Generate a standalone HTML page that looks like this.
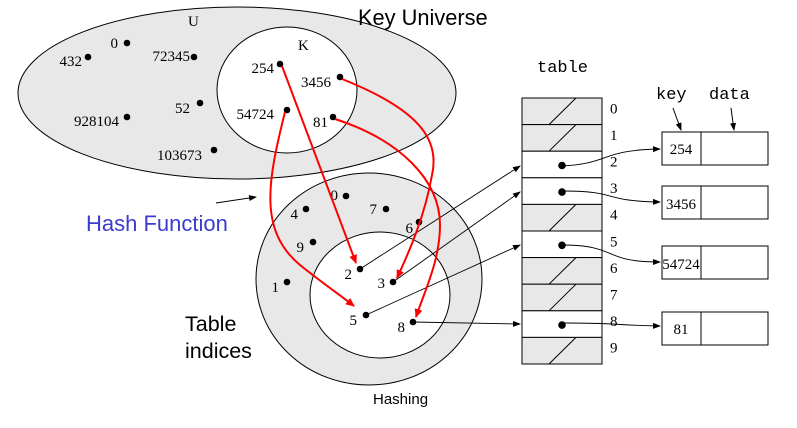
<!DOCTYPE html>
<html><head><meta charset="utf-8"><style>
html,body{margin:0;padding:0;background:#fff}
svg{display:block}
.s{font-family:"Liberation Serif",serif;font-size:15px;fill:#000}
.a{font-family:"Liberation Sans",sans-serif;fill:#000}
.m{font-family:"Liberation Mono",monospace;font-size:17px;fill:#000}
</style></head><body>
<svg width="797" height="428" viewBox="0 0 797 428">
<defs>
<marker id="ab" markerWidth="8" markerHeight="8" refX="7" refY="3" orient="auto" markerUnits="userSpaceOnUse"><path d="M0,0 L8,3 L0,6 z" fill="#000"/></marker>
<marker id="ar" markerWidth="10" markerHeight="10" refX="8" refY="4" orient="auto" markerUnits="userSpaceOnUse"><path d="M0,0 L9,4 L0,8 z" fill="#f00"/></marker>
</defs>
<g>
<ellipse cx="237" cy="93" rx="219" ry="86" fill="#e8e8e8" stroke="#000" stroke-width="1"/>
<ellipse cx="287" cy="90" rx="70" ry="63" fill="#fff" stroke="#000"/>
<text x="358" y="25" class="a" font-size="21.8">Key Universe</text>
<text x="188" y="26" class="s" font-size="16">U</text>
<text x="298" y="50" class="s" font-size="16">K</text>
</g>
<g fill="#000">
<circle cx="127" cy="43" r="3.3"/><text x="118" y="48" class="s" text-anchor="end">0</text>
<circle cx="88" cy="57" r="3.3"/><text x="82" y="66" class="s" text-anchor="end">432</text>
<circle cx="194" cy="57" r="3.3"/><text x="190" y="61" class="s" text-anchor="end">72345</text>
<circle cx="200" cy="103" r="3.3"/><text x="190" y="113" class="s" text-anchor="end">52</text>
<circle cx="127" cy="117" r="3.3"/><text x="119" y="126" class="s" text-anchor="end">928104</text>
<circle cx="214" cy="150" r="3.3"/><text x="202" y="160" class="s" text-anchor="end">103673</text>
<circle cx="280" cy="64" r="3.3"/><text x="274" y="73" class="s" text-anchor="end">254</text>
<circle cx="340" cy="77" r="3.3"/><text x="331" y="87" class="s" text-anchor="end">3456</text>
<circle cx="287" cy="110" r="3.3"/><text x="274" y="119" class="s" text-anchor="end">54724</text>
<circle cx="333" cy="117" r="3.3"/><text x="328" y="127" class="s" text-anchor="end">81</text>
</g>
<g>
<ellipse cx="369" cy="279" rx="113" ry="106" fill="#e8e8e8" stroke="#000"/>
<ellipse cx="380" cy="295" rx="70" ry="63" fill="#fff" stroke="#000"/>
<g fill="#000">
<circle cx="346" cy="196" r="3.3"/><text x="338" y="200" class="s" text-anchor="end">0</text>
<circle cx="386" cy="209" r="3.3"/><text x="377" y="214" class="s" text-anchor="end">7</text>
<circle cx="306" cy="209" r="3.3"/><text x="298" y="219" class="s" text-anchor="end">4</text>
<circle cx="419" cy="222" r="3.3"/><text x="413" y="233" class="s" text-anchor="end">6</text>
<circle cx="313" cy="242" r="3.3"/><text x="304" y="252" class="s" text-anchor="end">9</text>
<circle cx="287" cy="282" r="3.3"/><text x="279" y="292" class="s" text-anchor="end">1</text>
<circle cx="360" cy="269" r="3.3"/><text x="352" y="279" class="s" text-anchor="end">2</text>
<circle cx="393" cy="282" r="3.3"/><text x="385" y="288" class="s" text-anchor="end">3</text>
<circle cx="366" cy="315" r="3.3"/><text x="357" y="325" class="s" text-anchor="end">5</text>
<circle cx="413" cy="322" r="3.3"/><text x="405" y="332" class="s" text-anchor="end">8</text>
</g>
</g>
<text x="86" y="231" class="a" font-size="22" fill="#3b3bd0" style="fill:#3b3bd0">Hash Function</text>
<line x1="216" y1="203" x2="256" y2="197" stroke="#000" marker-end="url(#ab)"/>
<text x="185" y="331" class="a" font-size="21.5">Table</text>
<text x="185" y="358" class="a" font-size="21.5">indices</text>
<text x="373" y="404" class="a" font-size="15">Hashing</text>
<g stroke="#000">
<text x="537" y="72" class="m" stroke="none">table</text>
<g id="rows"></g>
</g>
<g stroke="#000" fill="#fff">
<text x="656" y="99" class="m" stroke="none" fill="#000">key</text>
<text x="709" y="99" class="m" stroke="none" fill="#000">data</text>
<line x1="673" y1="108" x2="681" y2="130" marker-end="url(#ab)"/>
<line x1="731" y1="108" x2="734" y2="130" marker-end="url(#ab)"/>
<rect x="662" y="132" width="106" height="33"/><line x1="701" y1="132" x2="701" y2="165"/>
<rect x="662" y="186" width="106" height="33"/><line x1="701" y1="186" x2="701" y2="219"/>
<rect x="662" y="246" width="106" height="33"/><line x1="701" y1="246" x2="701" y2="279"/>
<rect x="662" y="312" width="106" height="33"/><line x1="701" y1="312" x2="701" y2="345"/>
<g stroke="none" fill="#000">
<text x="681" y="154" class="s" text-anchor="middle">254</text>
<text x="681" y="209" class="s" text-anchor="middle">3456</text>
<text x="681" y="269" class="s" text-anchor="middle">54724</text>
<text x="681" y="334" class="s" text-anchor="middle">81</text>
</g>
</g>
<g stroke="#000" fill="none" stroke-width="0.9">
<line x1="360" y1="269" x2="520" y2="166" marker-end="url(#ab)"/>
<line x1="393" y1="282" x2="520" y2="192" marker-end="url(#ab)"/>
<line x1="366" y1="315" x2="520" y2="245" marker-end="url(#ab)"/>
<line x1="413" y1="322" x2="520" y2="324" marker-end="url(#ab)"/>
<path d="M561,166 C610,164 600,150 660,149" marker-end="url(#ab)"/>
<path d="M563,191 C620,191 600,201 660,202" marker-end="url(#ab)"/>
<path d="M561,245 C620,245 600,262 660,262" marker-end="url(#ab)"/>
<path d="M564,323 C620,323 610,325 660,326" marker-end="url(#ab)"/>
</g>
<g stroke="#f00" fill="none" stroke-width="2">
<path d="M282,66 L356,263" marker-end="url(#ar)"/>
<path d="M342,79 C420,110 440,140 432,175 C425,215 410,250 397,278" marker-end="url(#ar)"/>
<path d="M285,112 C268,180 258,230 300,265 C325,285 340,295 354,306" marker-end="url(#ar)"/>
<path d="M335,119 C400,140 440,180 440,225 C440,260 425,290 416,317" marker-end="url(#ar)"/>
</g>
</svg>
<script>
const rowIdx=[0,1,2,3,4,5,6,7,8,9];
const filled=[2,3,5,8];
const g=document.getElementById('rows');
const NS='http://www.w3.org/2000/svg';
const x0=522,w=80,y0=98,h=26.6;
rowIdx.forEach(i=>{
 const y=y0+i*h, f=filled.includes(i);
 const r=document.createElementNS(NS,'rect');
 r.setAttribute('x',x0);r.setAttribute('y',y);r.setAttribute('width',w);r.setAttribute('height',h);
 r.setAttribute('fill',f?'#fff':'#e8e8e8');
 
 
 g.appendChild(r);
 if(!f){const l=document.createElementNS(NS,'line');
  l.setAttribute('x1',549);l.setAttribute('y1',y+h);l.setAttribute('x2',576);l.setAttribute('y2',y);
  g.appendChild(l);}
 else{const c=document.createElementNS(NS,'circle');
  c.setAttribute('cx',562);c.setAttribute('cy',y+h/2+1);c.setAttribute('r',3.3);c.setAttribute('fill','#000');
  g.appendChild(c);}
 const t=document.createElementNS(NS,'text');
 t.setAttribute('x',610);t.setAttribute('y',y+h/2+2);t.setAttribute('class','s');t.setAttribute('stroke','none');
 t.textContent=i;
 
 
 g.appendChild(t);
});
</script>
</body></html>
